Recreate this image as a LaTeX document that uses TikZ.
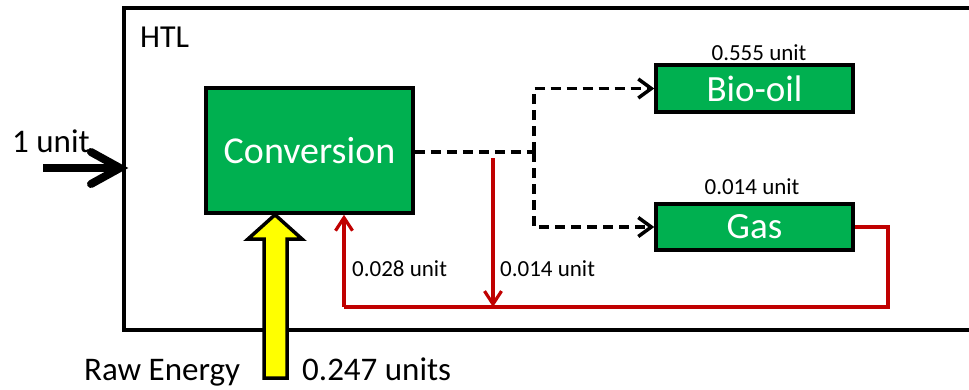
\documentclass[tikz,border=0pt]{standalone}
\usepackage{fontspec}
\setmainfont{Carlito}
\usetikzlibrary{arrows.meta}
\definecolor{boxgreen}{RGB}{0,176,80}
\definecolor{darkred}{RGB}{192,0,0}
\definecolor{arrowyellow}{RGB}{255,255,0}
\tikzset{
  greenbox/.style={draw=black, line width=3.5pt, fill=boxgreen, text=white, inner sep=0pt},
  flowdash/.style={draw=black, line width=3.5pt, dash pattern=on 10pt off 6pt, -{Straight Barb[length=13pt,width=19pt,line width=3.5pt]}},
  flowdashplain/.style={draw=black, line width=3.5pt, dash pattern=on 10pt off 6pt},
  recycle/.style={draw=darkred, line width=3.2pt},
  recyclearrow/.style={recycle, -{Straight Barb[length=13pt,width=17pt,line width=3.2pt]}},
  smalllabel/.style={font=\fontsize{23}{26}\selectfont, inner sep=0pt},
  biglabel/.style={font=\fontsize{33}{36}\selectfont, inner sep=0pt}
}
\begin{document}
\begin{tikzpicture}[x=1pt,y=-1pt]
\useasboundingbox (0,0) rectangle (969,389);
% HTL boundary (open to the right)
\draw[line width=3.5pt] (975,8) -- (124,8) -- (124,330) -- (975,330);
\node[anchor=base west, inner sep=0pt, font=\fontsize{32}{34}\selectfont] (htl) at (140,47) {HTL};

% boxes
\node[greenbox, minimum width=207pt, minimum height=125pt, font=\fontsize{38}{40}\selectfont] (conv) at (309.5,150.5) {Conversion};
\node[greenbox, minimum width=197pt, minimum height=47pt, font=\fontsize{37}{40}\selectfont] (oil) at (754.5,88.5) {Bio-oil};
\node[greenbox, minimum width=197pt, minimum height=46pt, font=\fontsize{37}{40}\selectfont] (gas) at (754.5,227) {Gas};

\node[smalllabel, anchor=base] (oillab) at (759,60) {0.555 unit};
\node[smalllabel, anchor=base] (gaslab) at (752,194) {0.014 unit};

% dashed product split
\coordinate (split) at (534,152);
\draw[flowdashplain] (conv.east |- split) -- (split);
\draw[flowdash] (split) -- (534,88.5) -- (oil.west);
\draw[flowdash] (split) -- (534,227) -- (gas.west);

% red recycle loop
\coordinate (gasout) at (888,227);
\coordinate (loopcorner) at (888,307);
\coordinate (loopleft) at (344,307);
\coordinate (purgetop) at (493,158);
\coordinate (purgebot) at (493,307);
\draw[recycle] (gas.east) -- (gasout) -- (loopcorner) -- (loopleft);
\draw[recyclearrow] (loopleft) -- (loopleft |- conv.south);
\draw[recyclearrow] (purgetop) -- (purgebot);
\node[smalllabel, anchor=base west] (lab028) at (352,276) {0.028 unit};
\node[smalllabel, anchor=base west] (lab014) at (500,276) {0.014 unit};

% 1 unit input arrow
\coordinate (instart) at (43,168);
\coordinate (inend) at (122,168);
\draw[line width=8pt] (instart) -- ([xshift=-4pt]inend);
\draw[line width=8pt, line cap=round, line join=miter] (91,152) -- ([xshift=-2pt]inend) -- (91,184);
\node[biglabel, anchor=base west] (unit) at (12,152) {1 unit};

% yellow energy arrow
\draw[line width=3.5pt, fill=arrowyellow, line join=miter]
  (264,378) -- (264,239) -- (248,239) -- (conv.south -| 275,0) -- (302,239) -- (287,239) -- (287,378) -- cycle;
\node[biglabel, anchor=base west] (raw) at (84,380) {Raw Energy};
\node[biglabel, anchor=base west] (rawval) at (302,380) {0.247 units};
\end{tikzpicture}
\end{document}
